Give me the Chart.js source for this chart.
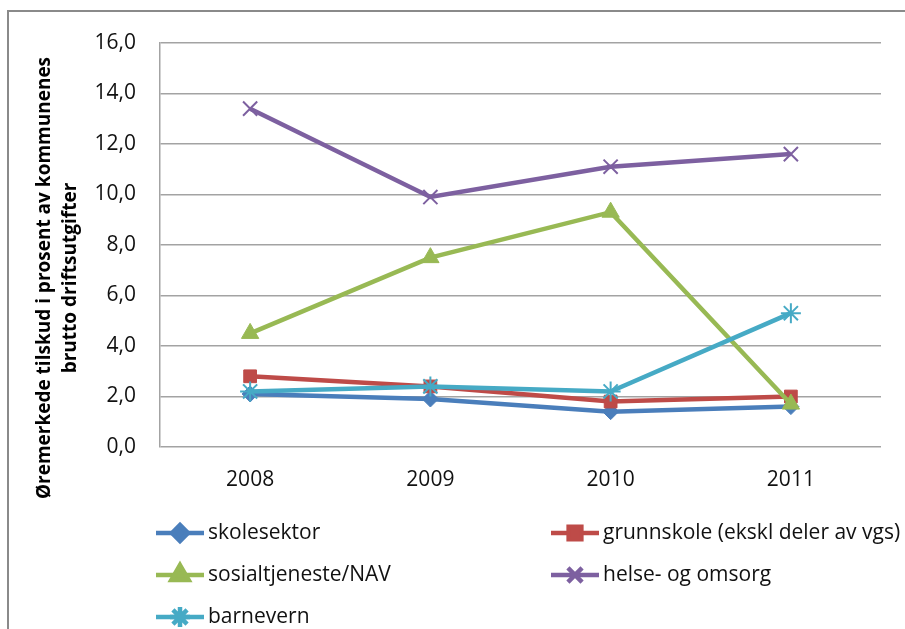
<!DOCTYPE html>
<html>
<head>
<meta charset="utf-8">
<script src="https://cdn.jsdelivr.net/npm/chart.js@4"></script>
<style>
  html, body { margin: 0; padding: 0; background: #fff; }
  canvas { display: block; }
</style>
</head>
<body>
<canvas id="chart" width="905" height="629"></canvas>
<script>
// Data
const years = ['2008', '2009', '2010', '2011'];
const skolesektor = [2.1, 1.9, 1.4, 1.6];
const grunnskole = [2.8, 2.4, 1.8, 2.0];
const sosialtjeneste = [4.5, 7.5, 9.3, 1.7];
const helseOmsorg = [13.4, 9.9, 11.1, 11.6];
const barnevern = [2.2, 2.4, 2.2, 5.3];
const yTickLabels = ['0,0', '2,0', '4,0', '6,0', '8,0', '10,0', '12,0', '14,0', '16,0'];
const seriesNames = ['skolesektor', 'grunnskole (ekskl deler av vgs)', 'sosialtjeneste/NAV', 'helse- og omsorg', 'barnevern'];
const yTitle = ['Øremerkede tilskud i prosent av kommunenes', 'brutto driftsutgifter'];

const FONT = '"Open Sans", "Liberation Sans", sans-serif';

function series(label, data, color, pointStyle, radius, order) {
  return {
    label,
    data,
    borderColor: color,
    backgroundColor: color,
    borderWidth: 4.5,
    pointStyle,
    pointRadius: radius,
    pointBorderWidth: pointStyle === 'crossRot' || pointStyle === 'star' ? 2 : 1,
    pointBorderColor: color,
    pointBackgroundColor: color,
    tension: 0,
    order
  };
}

const datasets = [
  series(seriesNames[0], skolesektor, '#4a7ebb', 'rectRot', 8, 5),
  series(seriesNames[1], grunnskole, '#be4b48', 'rect', 9, 4),
  series(seriesNames[2], sosialtjeneste, '#98b954', 'triangle', 10, 3),
  series(seriesNames[3], helseOmsorg, '#7d60a0', 'crossRot', 10, 2),
  series(seriesNames[4], barnevern, '#46aac5', 'star', 10, 1)
];

// outer frame of the chart box
const framePlugin = {
  id: 'frame',
  beforeDraw(chart) {
    const {ctx} = chart;
    ctx.save();
    ctx.strokeStyle = '#8a8a8a';
    ctx.lineWidth = 2;
    ctx.strokeRect(8, 11, 1000, 1000);
    ctx.restore();
  }
};

// two-line rotated axis title, centred like the original
const yTitlePlugin = {
  id: 'yTitle',
  afterDraw(chart) {
    const {ctx} = chart;
    ctx.save();
    ctx.translate(45, 278);
    ctx.rotate(-Math.PI / 2);
    ctx.font = 'bold 19px ' + FONT;
    ctx.fillStyle = '#000';
    ctx.textAlign = 'center';
    ctx.textBaseline = 'middle';
    yTitle.forEach((line, i) => ctx.fillText(line, 0, i * 26));
    ctx.restore();
  }
};

// legend in two columns below the plot
const legendPlugin = {
  id: 'twoColLegend',
  afterDraw(chart) {
    const {ctx} = chart;
    const cols = [156, 551];
    const rows = [533, 575, 617];
    ctx.save();
    ctx.font = '21px ' + FONT;
    ctx.textBaseline = 'middle';
    chart.data.datasets.forEach((ds, i) => {
      const x = cols[i % 2];
      const y = rows[Math.floor(i / 2)];
      ctx.strokeStyle = ds.borderColor;
      ctx.lineWidth = 4.5;
      ctx.beginPath();
      ctx.moveTo(x, y);
      ctx.lineTo(x + 48, y);
      ctx.stroke();
      ctx.fillStyle = ds.backgroundColor;
      Chart.helpers.drawPoint(ctx, {
        pointStyle: ds.pointStyle,
        radius: ds.pointRadius,
        borderWidth: ds.pointBorderWidth,
        rotation: 0
      }, x + 24, y);
      ctx.fillStyle = '#111';
      ctx.fillText(ds.label, x + 52, y);
    });
    ctx.restore();
  }
};

new Chart(document.getElementById('chart'), {
  type: 'line',
  data: { labels: years, datasets },
  options: {
    responsive: false,
    animation: false,
    layout: { padding: { top: 43, left: 0, right: 24, bottom: 122 } },
    plugins: {
      legend: { display: false },
      tooltip: { enabled: false }
    },
    scales: {
      x: {
        offset: true,
        afterFit(scale) { scale.height = 60; },
        grid: { display: false, drawTicks: false },
        border: { display: false },
        ticks: { color: '#111', padding: 20, font: { family: FONT, size: 21 } }
      },
      y: {
        min: 0,
        max: 16,
        afterFit(scale) { scale.width = 160; },
        grid: { color: '#a3a3a3', lineWidth: 1.5, drawTicks: false },
        border: { display: true, color: '#a3a3a3', width: 1.5 },
        ticks: {
          stepSize: 2,
          color: '#111',
          padding: 24,
          font: { family: FONT, size: 21 },
          callback: (v, i) => yTickLabels[i]
        }
      }
    }
  },
  plugins: [framePlugin, yTitlePlugin, legendPlugin]
});
</script>
</body>
</html>
